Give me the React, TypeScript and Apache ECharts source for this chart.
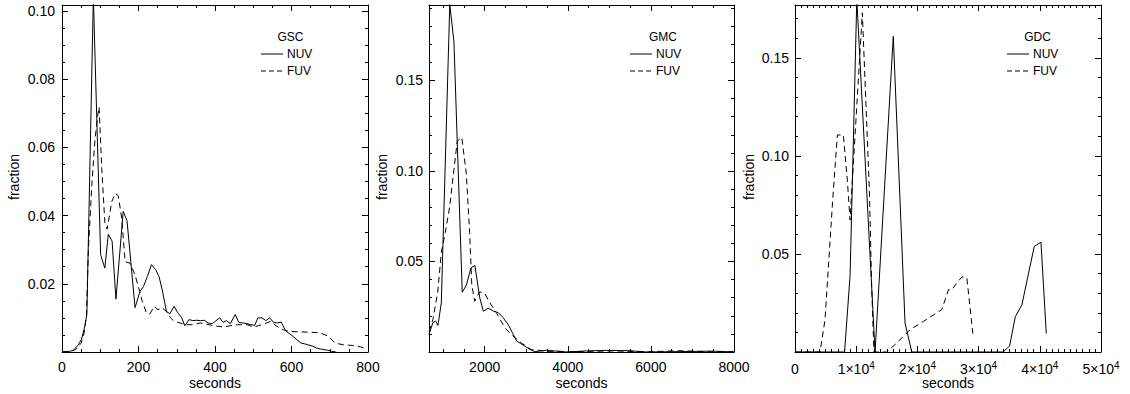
import React, { useEffect, useRef } from "react";
import * as echarts from "echarts";

// ---------------- data ----------------
const gscNuvX = [0, 20, 30, 42, 51, 60, 65, 82, 101, 112, 121, 131, 141, 160, 170, 191, 204, 213, 223, 234, 245, 254, 262, 273, 282, 293, 302, 313, 321, 332, 342, 352, 362, 372, 382, 393, 412, 421, 430, 440, 453, 462, 473, 484, 494, 504, 512, 523, 533, 543, 553, 564, 573, 584, 594, 604, 614, 625, 634, 644, 655, 665, 675, 685, 695, 705, 716];
const gscNuvY = [0, 0.0002, 0.0005, 0.002, 0.0037, 0.0077, 0.011, 0.104, 0.0285, 0.0246, 0.0345, 0.0325, 0.0155, 0.0412, 0.0385, 0.013, 0.0178, 0.0192, 0.0221, 0.0256, 0.0241, 0.022, 0.0182, 0.0119, 0.0112, 0.0134, 0.0116, 0.01, 0.0077, 0.0095, 0.0092, 0.0093, 0.0092, 0.0093, 0.0085, 0.0083, 0.01, 0.0087, 0.0092, 0.0083, 0.011, 0.0087, 0.0085, 0.0083, 0.008, 0.0078, 0.01, 0.01, 0.0092, 0.01, 0.0087, 0.0085, 0.0088, 0.0063, 0.0054, 0.0046, 0.0036, 0.0026, 0.0024, 0.0021, 0.0017, 0.0012, 0.0009, 0.0007, 0.0005, 0.0002, 0];
const gscFuvX = [0, 25, 36, 50, 58, 64, 69, 78, 86, 93, 97, 104, 112, 118, 130, 139, 147, 156, 165, 178, 191, 200, 210, 221, 230, 241, 251, 262, 273, 284, 293, 303, 314, 323, 340, 362, 397, 423, 440, 458, 484, 501, 523, 545, 562, 579, 597, 623, 649, 675, 697, 714, 736, 762, 780, 797];
const gscFuvY = [0, 0.0003, 0.0007, 0.0026, 0.0056, 0.011, 0.03, 0.049, 0.062, 0.069, 0.0718, 0.0537, 0.038, 0.036, 0.044, 0.0465, 0.0458, 0.0393, 0.0265, 0.026, 0.0226, 0.019, 0.0148, 0.0114, 0.0112, 0.0134, 0.0124, 0.0129, 0.0119, 0.01, 0.009, 0.0087, 0.0083, 0.008, 0.008, 0.0085, 0.0077, 0.0073, 0.0077, 0.008, 0.008, 0.0073, 0.008, 0.009, 0.0075, 0.0065, 0.006, 0.0059, 0.0058, 0.0056, 0.0046, 0.0026, 0.0021, 0.0019, 0.0015, 0.0009];

const gmcNuvX = [660, 754, 819, 875, 956, 1160, 1260, 1460, 1560, 1670, 1765, 1880, 1970, 2080, 2220, 2330, 2441, 2562, 2666, 2770, 2860, 2963, 3084, 3204, 3486, 3807, 3967, 4450, 4932, 5494, 5895, 6700, 7500, 8000];
const gmcNuvY = [0.0097, 0.0162, 0.0171, 0.0147, 0.027, 0.192, 0.1715, 0.033, 0.037, 0.0465, 0.0478, 0.03, 0.0225, 0.0242, 0.0225, 0.0217, 0.019, 0.0153, 0.0107, 0.006, 0.0048, 0.0033, 0.0015, 0.0002, 0.0009, 0.0004, 0, 0.0006, 0.0009, 0.0007, 0, 0.0002, 0.0005, 0];
const gmcFuvX = [660, 754, 870, 956, 1052, 1156, 1260, 1340, 1450, 1558, 1638, 1690, 1760, 1879, 2000, 2120, 2280, 2480, 2680, 2882, 3124, 3325, 3486, 4200, 5092, 5900, 6700, 7500, 8000];
const gmcFuvY = [0.0112, 0.018, 0.033, 0.055, 0.066, 0.08, 0.1008, 0.1165, 0.1185, 0.0984, 0.066, 0.037, 0.028, 0.0332, 0.0325, 0.0273, 0.0218, 0.0135, 0.0088, 0.005, 0.0013, 0.0009, 0.0004, 0.0002, 0.0006, 0.0001, 0.0007, 0.0001, 0.0003];

const gdcNuvX = [0, 8100, 9000, 10100, 13080, 16060, 17980, 19080, 34000, 35060, 36000, 37080, 38170, 39100, 40190, 41060];
const gdcNuvY = [0, 0, 0.039, 0.18, 0, 0.161, 0.0148, 0, 0, 0.003, 0.018, 0.0241, 0.0403, 0.0539, 0.056, 0.0094];
const gdcFuvX = [0, 4090, 4900, 6160, 6920, 7900, 8550, 8990, 11000, 12160, 12540, 12900, 15000, 16630, 18810, 20990, 23990, 25080, 25630, 26450, 27270, 28080, 29060];
const gdcFuvY = [0, 0, 0.0163, 0.0776, 0.1107, 0.1107, 0.0877, 0.0673, 0.173, 0.082, 0.032, 0, 0, 0.0046, 0.0114, 0.0156, 0.0216, 0.0318, 0.0318, 0.0352, 0.0383, 0.0378, 0.0094];

const panelNames = ["GSC", "GMC", "GDC"];
const seriesNames = ["NUV", "FUV"];
const xTitle = "seconds";
const yTitle = "fraction";

// ---------------- layout / style ----------------
const FONT = '"Liberation Sans", Arial, Helvetica, sans-serif';
const BLACK = "#000";

const zip = (xs: number[], ys: number[]) => xs.map((x, i) => [x, ys[i]]);
const isMult = (v: number, step: number) => Math.abs(v / step - Math.round(v / step)) < 1e-6;

type Panel = {
  left: number; width: number;
  xMin: number; xMax: number; xMajor: number; xMinor: number; xSplit?: [number, number];
  yMax: number; yMajor: number; yMinor: number;
  xFmt: (v: number) => string; yFmt: (v: number) => string;
  yLabelMargin: number;
  nuv: number[][]; fuv: number[][];
  legendX: number; titleX: number; yTitleX: number;
};

const yFmtFor = (step: number) => (v: number) => (v > 0 && isMult(v, step) ? v.toFixed(2) : "");

const panels: Panel[] = [
  {
    left: 62, width: 306, xMin: 0, xMax: 800, xMajor: 200, xMinor: 50,
    yMax: 0.1017, yMajor: 0.02, yMinor: 0.005,
    xFmt: (v) => (isMult(v, 200) ? String(v) : ""), yFmt: yFmtFor(0.02), yLabelMargin: 7,
    nuv: zip(gscNuvX, gscNuvY), fuv: zip(gscFuvX, gscFuvY),
    legendX: 261, titleX: 290.5, yTitleX: 14,
  },
  {
    left: 429, width: 305, xMin: 660, xMax: 8000, xMajor: 2000, xMinor: 500, xSplit: [4, 15],
    yMax: 0.1917, yMajor: 0.05, yMinor: 0.01,
    xFmt: (v) => (isMult(v, 2000) ? String(v) : ""), yFmt: yFmtFor(0.05), yLabelMargin: 6,
    nuv: zip(gmcNuvX, gmcNuvY), fuv: zip(gmcFuvX, gmcFuvY),
    legendX: 630, titleX: 663, yTitleX: 381.5,
  },
  {
    left: 795, width: 306, xMin: 0, xMax: 50000, xMajor: 10000, xMinor: 1000,
    yMax: 0.177, yMajor: 0.05, yMinor: 0.01,
    xFmt: (v) => {
      if (!isMult(v, 10000)) return "";
      if (v === 0) return "{a|0}";
      return `{a|${v / 10000}×10}{b|4}`;
    },
    yFmt: yFmtFor(0.05), yLabelMargin: 6,
    nuv: zip(gdcNuvX, gdcNuvY), fuv: zip(gdcFuvX, gdcFuvY),
    legendX: 1007, titleX: 1037.5, yTitleX: 749,
  },
];

const TOP = 5;
const HEIGHT = 347;

function buildOption() {
  const grids: any[] = [];
  const xAxes: any[] = [];
  const yAxes: any[] = [];
  const series: any[] = [];
  const graphics: any[] = [];

  panels.forEach((p, g) => {
    grids.push({ left: p.left, top: TOP, width: p.width, height: HEIGHT, containLabel: false });
    const lineStyle = { color: BLACK, width: 1 };
    const xBase = (pos: string, major: boolean) => {
      const ax: any = {
        type: "value", gridIndex: g, position: pos, min: p.xMin, max: p.xMax,
        axisLine: { show: major, onZero: false, lineStyle },
        axisTick: { show: true, inside: true, length: major ? 6 : 3, lineStyle },
        splitLine: { show: false },
        axisLabel: { show: false },
      };
      if (p.xSplit) ax.splitNumber = major ? p.xSplit[0] : p.xSplit[1];
      else ax.interval = major ? p.xMajor : p.xMinor;
      return ax;
    };
    const bottomMajor = xBase("bottom", true);
    bottomMajor.axisLabel = {
      show: true, interval: 0, formatter: p.xFmt, margin: 8, color: BLACK, fontSize: 14, fontFamily: FONT,
      showMinLabel: true, showMaxLabel: true,
      rich: {
        a: { fontSize: 14, fontFamily: FONT, color: BLACK, lineHeight: 18 },
        b: { fontSize: 10, fontFamily: FONT, color: BLACK, verticalAlign: "top", lineHeight: 10 },
      },
    };
    const xIdx = xAxes.length;
    xAxes.push(bottomMajor, xBase("bottom", false), xBase("top", true), xBase("top", false));

    const yBase = (pos: string, major: boolean) => ({
      type: "value", gridIndex: g, position: pos, min: 0, max: p.yMax,
      interval: major ? p.yMajor : p.yMinor,
      axisLine: { show: major, onZero: false, lineStyle },
      axisTick: { show: true, inside: true, length: major ? 6 : 3, lineStyle },
      splitLine: { show: false },
      axisLabel: { show: false },
    });
    const leftMajor: any = yBase("left", true);
    leftMajor.axisLabel = {
      show: true, formatter: p.yFmt, margin: p.yLabelMargin, color: BLACK, fontSize: 14, fontFamily: FONT,
      showMinLabel: true, showMaxLabel: true,
    };
    const yIdx = yAxes.length;
    yAxes.push(leftMajor, yBase("left", false), yBase("right", true), yBase("right", false));

    series.push(
      {
        name: `${panelNames[g]} ${seriesNames[0]}`, type: "line", xAxisIndex: xIdx, yAxisIndex: yIdx,
        data: p.nuv, symbol: "none", showSymbol: false, clip: true, silent: true,
        lineStyle: { color: BLACK, width: 1, type: "solid" },
      },
      {
        name: `${panelNames[g]} ${seriesNames[1]}`, type: "line", xAxisIndex: xIdx, yAxisIndex: yIdx,
        data: p.fuv, symbol: "none", showSymbol: false, clip: true, silent: true,
        lineStyle: { color: BLACK, width: 1, type: [6, 4] },
      }
    );

    // legend block
    graphics.push(
      {
        type: "text", x: p.titleX, y: 37,
        style: { text: panelNames[g], fill: BLACK, font: `12px ${FONT}`, textAlign: "center", textVerticalAlign: "middle" },
      },
      {
        type: "line", shape: { x1: p.legendX, y1: 54, x2: p.legendX + 22, y2: 54 },
        style: { stroke: BLACK, lineWidth: 1 },
      },
      {
        type: "text", x: p.legendX + 26, y: 54,
        style: { text: seriesNames[0], fill: BLACK, font: `12px ${FONT}`, textAlign: "left", textVerticalAlign: "middle" },
      },
      {
        type: "line", shape: { x1: p.legendX, y1: 71, x2: p.legendX + 22, y2: 71 },
        style: { stroke: BLACK, lineWidth: 1, lineDash: [5, 3] },
      },
      {
        type: "text", x: p.legendX + 26, y: 71,
        style: { text: seriesNames[1], fill: BLACK, font: `12px ${FONT}`, textAlign: "left", textVerticalAlign: "middle" },
      },
      // axis titles
      {
        type: "text", x: p.left + p.width / 2, y: 383,
        style: { text: xTitle, fill: BLACK, font: `14px ${FONT}`, textAlign: "center", textVerticalAlign: "middle" },
      },
      {
        type: "text", x: p.yTitleX, y: 177, rotation: Math.PI / 2,
        style: { text: yTitle, fill: BLACK, font: `14px ${FONT}`, textAlign: "center", textVerticalAlign: "middle" },
      }
    );
  });

  return {
    animation: false,
    backgroundColor: "#fff",
    grid: grids,
    xAxis: xAxes,
    yAxis: yAxes,
    series,
    graphic: graphics,
  };
}

export default function App() {
  const ref = useRef<HTMLDivElement>(null);
  useEffect(() => {
    document.body.style.margin = "0";
    if (!ref.current) return;
    const chart = echarts.init(ref.current, undefined, { renderer: "svg" });
    chart.setOption(buildOption() as any);
    return () => chart.dispose();
  }, []);
  return <div ref={ref} style={{ width: 1130, height: 394, background: "#fff" }} />;
}
